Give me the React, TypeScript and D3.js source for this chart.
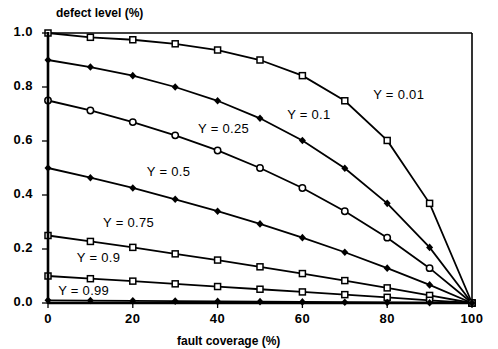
import React from "react";
import * as d3 from "d3";

// fault coverage (%) at each marker
const coverage = [0, 10, 20, 30, 40, 50, 60, 70, 80, 90, 100];

// defect level per yield
const dl001 = [1.0, 0.984, 0.975, 0.96, 0.937, 0.9, 0.842, 0.749, 0.602, 0.369, 0];
const dl01 = [0.9, 0.874, 0.842, 0.8, 0.749, 0.684, 0.602, 0.499, 0.369, 0.206, 0];
const dl025 = [0.75, 0.713, 0.67, 0.621, 0.565, 0.5, 0.426, 0.34, 0.242, 0.129, 0];
const dl05 = [0.5, 0.464, 0.426, 0.384, 0.34, 0.293, 0.242, 0.188, 0.129, 0.067, 0];
const dl075 = [0.25, 0.228, 0.206, 0.182, 0.159, 0.134, 0.109, 0.083, 0.056, 0.028, 0];
const dl09 = [0.1, 0.09, 0.081, 0.071, 0.061, 0.051, 0.041, 0.031, 0.021, 0.01, 0];
const dl099 = [0.01, 0.009, 0.008, 0.007, 0.006, 0.005, 0.004, 0.003, 0.002, 0.001, 0];

// label anchor given in data units (coverage, defect level)
const series = [
  { name: "Y = 0.01", values: dl001, marker: "square", lx: 76.7, ly: 0.767 },
  { name: "Y = 0.1", values: dl01, marker: "diamond", lx: 56.4, ly: 0.696 },
  { name: "Y = 0.25", values: dl025, marker: "circle", lx: 35.4, ly: 0.641 },
  { name: "Y = 0.5", values: dl05, marker: "diamond", lx: 23.3, ly: 0.482 },
  { name: "Y = 0.75", values: dl075, marker: "square", lx: 13, ly: 0.296 },
  { name: "Y = 0.9", values: dl09, marker: "square", lx: 6.8, ly: 0.163 },
  { name: "Y = 0.99", values: dl099, marker: "diamond", lx: 2.4, ly: 0.044 },
];

const xTicks = [0, 20, 40, 60, 80, 100];
const yTicks = [0, 0.2, 0.4, 0.6, 0.8, 1.0];

const W = 498;
const H = 349;
const FONT = "'Liberation Sans', Arial, sans-serif";

const Marker = ({ kind, cx, cy }: { kind: string; cx: number; cy: number }) => {
  if (kind === "square")
    return <rect x={cx - 3} y={cy - 3} width={6} height={6} fill="white" stroke="black" strokeWidth={1.5} />;
  if (kind === "circle")
    return <circle cx={cx} cy={cy} r={3.2} fill="white" stroke="black" strokeWidth={1.5} />;
  return <path d={`M${cx},${cy - 3.8}L${cx + 3.5},${cy}L${cx},${cy + 3.8}L${cx - 3.5},${cy}Z`} fill="black" />;
};

export default function App() {
  const x = d3.scaleLinear().domain([0, 100]).range([48, 472]);
  const y = d3.scaleLinear().domain([0, 1]).range([303, 33]);
  const line = d3
    .line<number>()
    .x((d, i) => x(coverage[i]))
    .y((d) => y(d));

  return (
    <svg width={W} height={H} style={{ position: "absolute", left: 0, top: 0, background: "white" }} fontFamily={FONT}>
      <rect width={W} height={H} fill="white" />
      {/* frame */}
      <line x1={x(0)} x2={x(100)} y1={y(1)} y2={y(1)} stroke="black" strokeWidth={1.6} />
      <line x1={x(100)} x2={x(100)} y1={y(1)} y2={y(0)} stroke="black" strokeWidth={1.6} />
      {series.map((s) => (
        <g key={s.name}>
          <path d={line(s.values) || ""} fill="none" stroke="black" strokeWidth={1.8} />
          {s.values.map((v, i) => (
            <Marker key={i} kind={s.marker} cx={x(coverage[i])} cy={y(v)} />
          ))}
          <text x={x(s.lx)} y={y(s.ly)} fontSize={13} dominantBaseline="middle" letterSpacing={0.3}>
            {s.name}
          </text>
        </g>
      ))}
      {/* axes */}
      <line x1={x(0)} x2={x(0)} y1={y(1) - 1} y2={y(0) + 1} stroke="black" strokeWidth={2.6} />
      <line x1={x(0)} x2={x(100)} y1={y(0)} y2={y(0)} stroke="black" strokeWidth={2.4} />
      {yTicks.map((t) => (
        <g key={t}>
          <line x1={x(0) - 6} x2={x(0)} y1={y(t)} y2={y(t)} stroke="black" strokeWidth={1.3} />
          <text x={33} y={y(t)} textAnchor="end" dominantBaseline="middle" fontSize={13} fontWeight="bold" letterSpacing={0.5}>
            {d3.format(".1f")(t)}
          </text>
        </g>
      ))}
      {xTicks.map((t) => (
        <g key={t}>
          <line x1={x(t)} x2={x(t)} y1={y(0)} y2={y(0) + 5} stroke="black" strokeWidth={1.3} />
          <text x={x(t)} y={320} textAnchor="middle" dominantBaseline="middle" fontSize={13} fontWeight="bold" letterSpacing={0.5}>
            {t}
          </text>
        </g>
      ))}
      <text x={56} y={14} dominantBaseline="middle" fontSize={12} fontWeight="bold">
        defect level (%)
      </text>
      <text x={177} y={342} dominantBaseline="middle" fontSize={12} fontWeight="bold">
        fault coverage (%)
      </text>
    </svg>
  );
}
